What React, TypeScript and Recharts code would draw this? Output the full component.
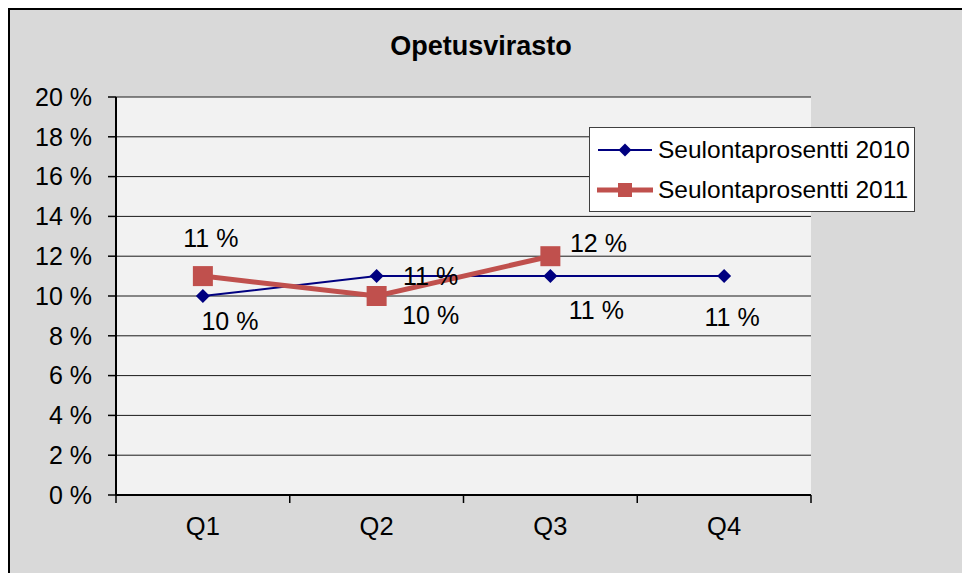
import React from "react";
import { LineChart, Line, XAxis, YAxis, CartesianGrid, Legend, LabelList } from "recharts";

const title = "Opetusvirasto";
const categories = ["Q1", "Q2", "Q3", "Q4"];
const series2010 = [0.1, 0.11, 0.11, 0.11];
const series2011: (number | null)[] = [0.11, 0.1, 0.12, null];
const seriesNames = ["Seulontaprosentti 2010", "Seulontaprosentti 2011"];
const yTicks = [0, 0.02, 0.04, 0.06, 0.08, 0.1, 0.12, 0.14, 0.16, 0.18, 0.2];

const data = categories.map((c, i) => ({ q: c, s2010: series2010[i], s2011: series2011[i] }));

// label placement offsets (style only)
const off2010 = [[27, 25], [54, 0], [46, 34], [8, 41]];
const off2011 = [[8, -38], [54, 19], [48, -13]];

const FONT = '"Liberation Sans", Arial, sans-serif';
const BLUE = "#000080";
const RED = "#c0504d";
const X_TICK_GAP = 22;

const fmt = (v: number) => `${Math.round(v * 100)} %`;

const Diamond = (props: any) => {
  const { cx, cy } = props;
  if (cx == null || cy == null) return null;
  const h = 7;
  return <path d={`M${cx},${cy - h}L${cx + h},${cy}L${cx},${cy + h}L${cx - h},${cy}Z`} fill={BLUE} />;
};
const Square = (props: any) => {
  const { cx, cy } = props;
  if (cx == null || cy == null) return null;
  const h = 10;
  return <rect x={cx - h} y={cy - h} width={2 * h} height={2 * h} fill={RED} />;
};

const makeLabel = (offs: number[][]) => (props: any) => {
  const { x, y, value, index } = props;
  if (value == null || x == null) return null;
  const o = offs[index] || [0, 0];
  return (
    <text x={x + o[0]} y={y + o[1]} textAnchor="middle" dominantBaseline="central" fontSize={25} fontFamily={FONT} fill="#000">
      {fmt(value)}
    </text>
  );
};

const CatTick = (props: any) => {
  const { x, y, payload, index } = props;
  const half = payload && payload.offset ? payload.offset : 0;
  const axisY = y - X_TICK_GAP;
  const last = index === categories.length - 1;
  return (
    <g>
      <line x1={x - half} y1={axisY} x2={x - half} y2={axisY + 8} stroke="#000" strokeWidth={1.5} />
      {last && <line x1={x + half} y1={axisY} x2={x + half} y2={axisY + 8} stroke="#000" strokeWidth={1.5} />}
      <text x={x} y={y} dy="0.71em" textAnchor="middle" fontSize={25.5} fontFamily={FONT} fill="#000">
        {payload.value}
      </text>
    </g>
  );
};

const LegendBox = () => (
  <div style={{ width: 326, height: 85, boxSizing: "border-box", background: "#fff", border: "1.5px solid #404040", fontFamily: FONT, fontSize: 24.5, color: "#000", textAlign: "left" }}>
    <div style={{ display: "flex", alignItems: "center", height: 40, marginTop: 2 }}>
      <svg width={62} height={20} style={{ marginLeft: 6 }}>
        <line x1={2} y1={10} x2={56} y2={10} stroke={BLUE} strokeWidth={2} />
        <path d="M29,3.5L35.5,10L29,16.5L22.5,10Z" fill={BLUE} />
      </svg>
      <span>{seriesNames[0]}</span>
    </div>
    <div style={{ display: "flex", alignItems: "center", height: 40 }}>
      <svg width={62} height={20} style={{ marginLeft: 6 }}>
        <line x1={1} y1={10} x2={57} y2={10} stroke={RED} strokeWidth={5} />
        <rect x={22} y={3} width={14} height={14} fill={RED} />
      </svg>
      <span>{seriesNames[1]}</span>
    </div>
  </div>
);

export default function App() {
  return (
    <div style={{ position: "relative", width: 962, height: 565, boxSizing: "border-box", background: "#d9d9d9", borderTop: "2px solid #000", borderLeft: "2px solid #000", overflow: "hidden" }}>
      <div style={{ position: "absolute", left: 0, width: 942, top: 21, textAlign: "center", fontFamily: FONT, fontWeight: "bold", fontSize: 27, color: "#000" }}>{title}</div>
      <LineChart width={960} height={563} data={data} margin={{ top: 87, right: 159, bottom: 38, left: 0 }}>
        <CartesianGrid horizontal vertical={false} fill="#f2f2f2" stroke="#1a1a1a" strokeWidth={1} yAxisId="left" />
        <XAxis dataKey="q" xAxisId="cat" scale="band" height={40} axisLine={{ stroke: "#000", strokeWidth: 2 }} tickLine={false} tickSize={8} tickMargin={14} tick={<CatTick />} interval={0} />
        <XAxis xAxisId="top" orientation="top" height={0} axisLine={{ stroke: "#808080", strokeWidth: 2 }} tickLine={false} tick={false} />
        <YAxis yAxisId="left" domain={[0, 0.2]} ticks={yTicks} width={106} axisLine={{ stroke: "#000", strokeWidth: 2 }} tickLine={{ stroke: "#000", strokeWidth: 1.5 }} tickSize={8} tickMargin={16} tickFormatter={fmt} tick={{ fontSize: 25, fontFamily: FONT, fill: "#000" }} interval={0} />
        <YAxis yAxisId="right" orientation="right" domain={[0, 0.2]} width={0} axisLine={{ stroke: "#808080", strokeWidth: 2 }} tickLine={false} tick={false} />
        <Legend content={<LegendBox />} layout="horizontal" verticalAlign="middle" align="center" wrapperStyle={{ position: "absolute", left: 579, top: 117, width: 326, height: 85 }} />
        <Line xAxisId="cat" yAxisId="left" dataKey="s2010" name={seriesNames[0]} stroke={BLUE} strokeWidth={2} dot={<Diamond />} activeDot={false} isAnimationActive={false}>
          <LabelList dataKey="s2010" content={makeLabel(off2010)} />
        </Line>
        <Line xAxisId="cat" yAxisId="left" dataKey="s2011" name={seriesNames[1]} stroke={RED} strokeWidth={5} dot={<Square />} activeDot={false} isAnimationActive={false}>
          <LabelList dataKey="s2011" content={makeLabel(off2011)} />
        </Line>
      </LineChart>
    </div>
  );
}
